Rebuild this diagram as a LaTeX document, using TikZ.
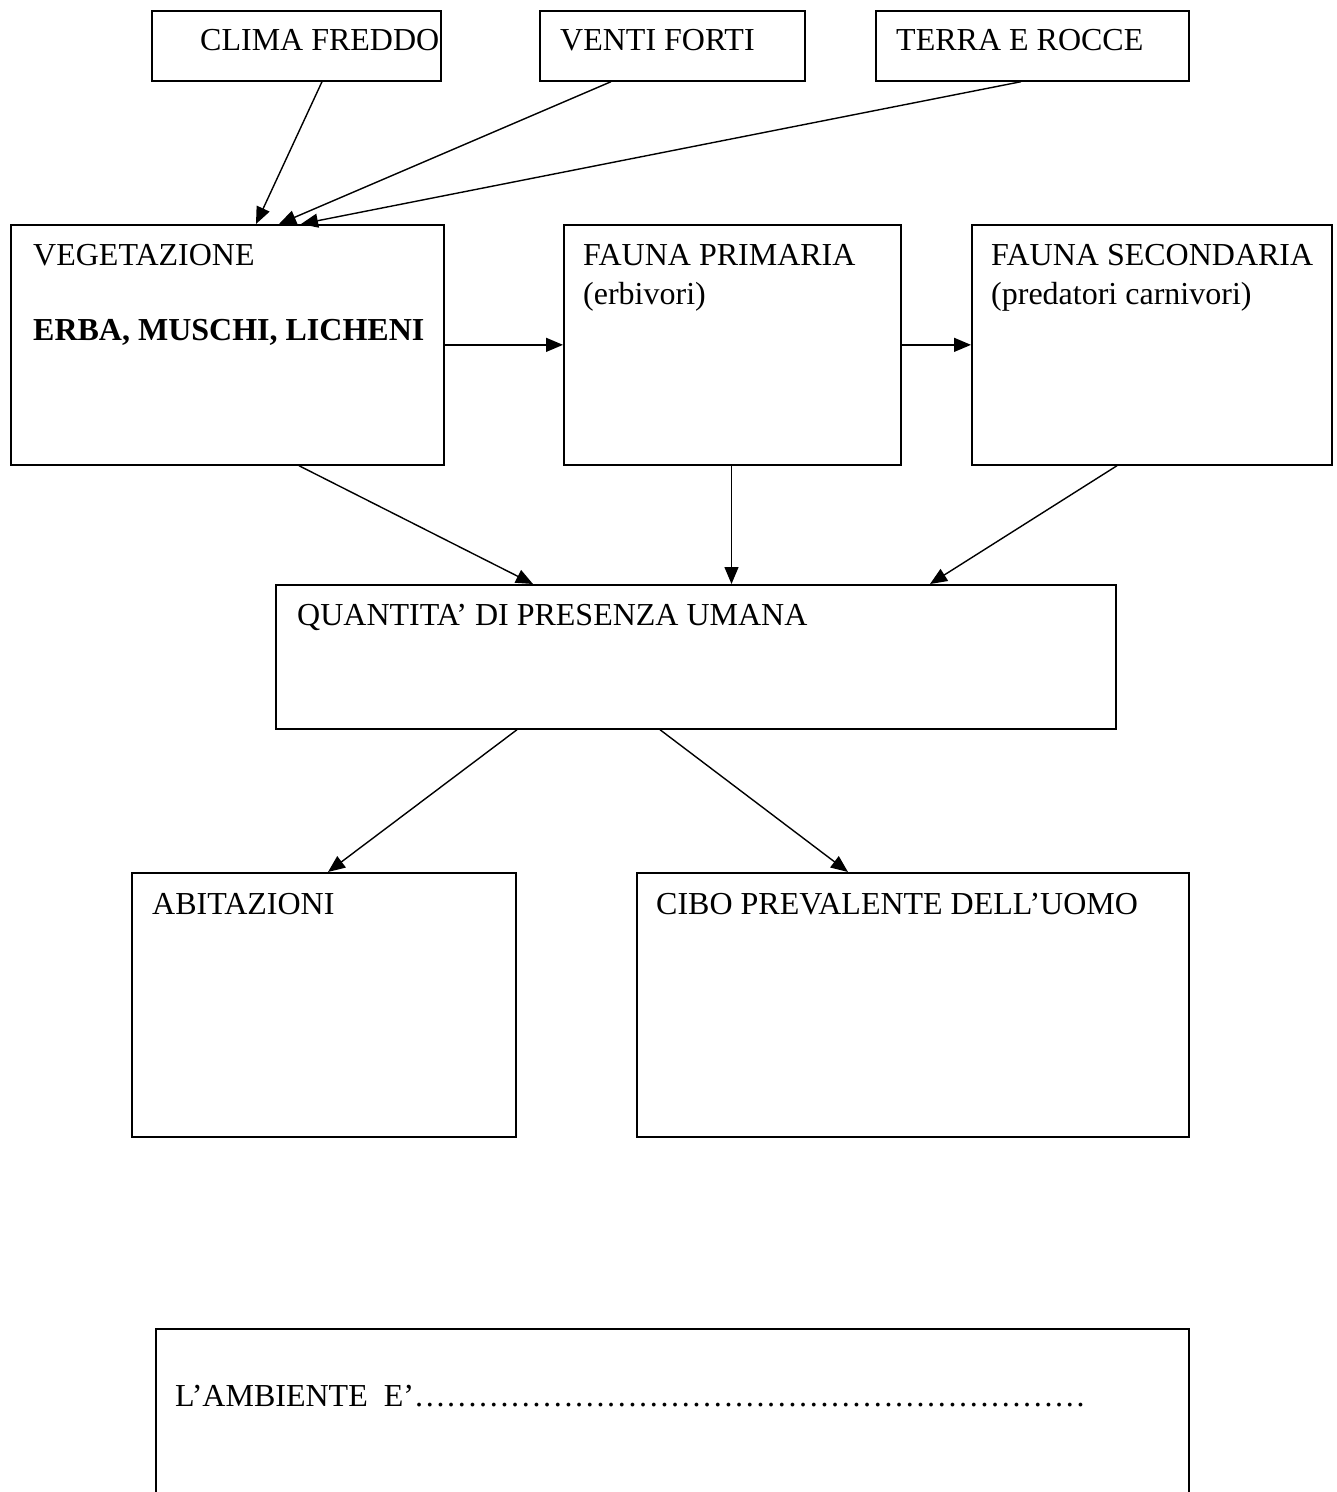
\documentclass[tikz,border=0pt]{standalone}
\usepackage{fontspec}
\setmainfont{Liberation Serif}
\usetikzlibrary{arrows.meta,calc}
\newcommand{\elps}{…}
\newcommand{\elpsseven}{\elps\elps\elps\elps\elps\elps\elps}
\begin{document}
\begin{tikzpicture}[x=1pt,y=-1pt,
  box/.style={draw, line width=1.7pt, anchor=north west, inner sep=0pt},
  lbl/.style={anchor=base west, inner sep=0pt, font=\fontsize{32}{38}\selectfont},
  arr/.style={line width=1.4pt, -{Triangle[length=17pt,width=14pt]}}]
\useasboundingbox (0,0) rectangle (1337,1492);
% boxes
\node[box, minimum width=289pt, minimum height=70pt] (clima) at (151,10) {};
\node[box, minimum width=265pt, minimum height=70pt] (venti) at (539,10) {};
\node[box, minimum width=313pt, minimum height=70pt] (terra) at (875,10) {};
\node[box, minimum width=433pt, minimum height=240pt] (veg) at (10,224) {};
\node[box, minimum width=337pt, minimum height=240pt] (fp) at (563,224) {};
\node[box, minimum width=360pt, minimum height=240pt] (fs) at (971,224) {};
\node[box, minimum width=840pt, minimum height=144pt] (q) at (275,584) {};
\node[box, minimum width=384pt, minimum height=264pt] (abit) at (131,872) {};
\node[box, minimum width=552pt, minimum height=264pt] (cibo) at (636,872) {};
\node[box, minimum width=1033pt, minimum height=200pt] (amb) at (155,1328) {};
% texts
\node[lbl] (tclima) at (200,50) {CLIMA FREDDO};
\node[lbl] (tventi) at (560,50) {VENTI FORTI};
\node[lbl] (tterra) at (896,50) {TERRA E ROCCE};
\node[lbl] (tveg) at (33,265) {VEGETAZIONE};
\node[lbl, font=\fontsize{32}{38}\selectfont\bfseries] (tveg2) at (33,340) {ERBA, MUSCHI, LICHENI};
\node[lbl] (tfp) at (583,265) {FAUNA PRIMARIA};
\node[lbl] (tfp2) at (583,304) {(erbivori)};
\node[lbl] (tfs) at (991,265) {FAUNA SECONDARIA};
\node[lbl] (tfs2) at (991,304) {(predatori carnivori)};
\node[lbl] (tq) at (297,625) {QUANTITA’ DI PRESENZA UMANA};
\node[lbl] (tabit) at (152,914) {ABITAZIONI};
\node[lbl] (tcibo) at (656,914) {CIBO PREVALENTE DELL’UOMO};
\node[lbl] (tamb) at (175,1406) {L’AMBIENTE\ \ E’\elpsseven\elpsseven\elpsseven};
% arrows
\draw[arr] ([xshift=171pt]clima.south west) -- ([xshift=246pt]veg.north west);
\draw[arr] ([xshift=72pt]venti.south west) -- ([xshift=269pt]veg.north west);
\draw[arr] ([xshift=146pt]terra.south west) -- ([xshift=291pt]veg.north west);
\draw[arr] (veg.east) -- (fp.west);
\draw[arr] (fp.east) -- (fs.west);
\draw[arr] ([xshift=289pt]veg.south west) -- ([xshift=258pt]q.north west);
\draw[arr] ([xshift=168.5pt]fp.south west) -- ([xshift=456.5pt]q.north west);
\draw[arr] ([xshift=146pt]fs.south west) -- ([xshift=655pt]q.north west);
\draw[arr] ([xshift=242pt]q.south west) -- ([xshift=197pt]abit.north west);
\draw[arr] ([xshift=385pt]q.south west) -- ([xshift=212pt]cibo.north west);
\end{tikzpicture}
\end{document}
